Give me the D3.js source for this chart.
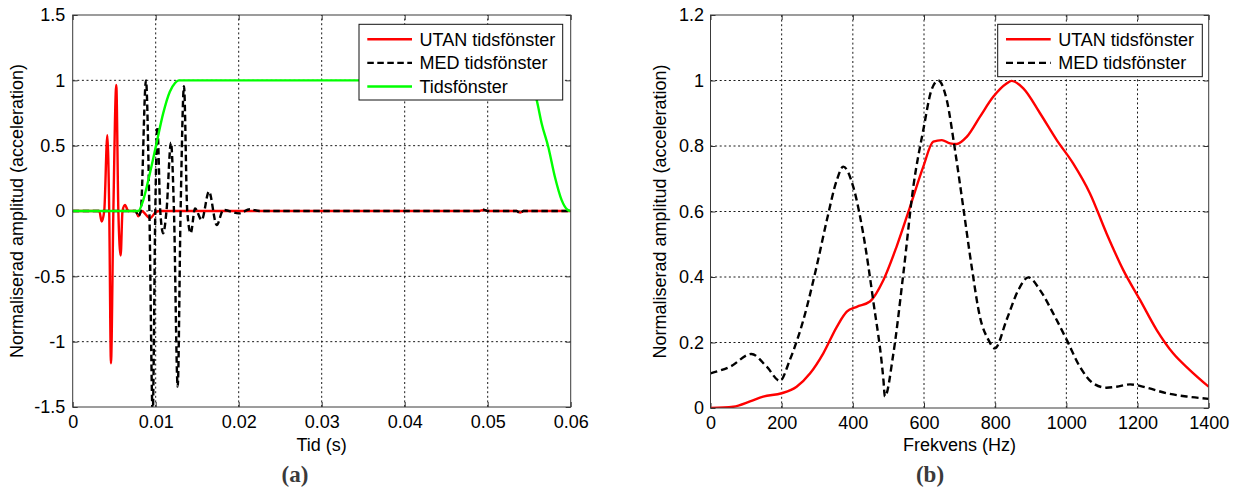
<!DOCTYPE html>
<html><head><meta charset="utf-8">
<script src="https://cdn.jsdelivr.net/npm/d3@7"></script>
<style>
html,body{margin:0;padding:0;background:#fff;}
svg{display:block;font-family:"Liberation Sans",Arial,sans-serif;}
</style></head>
<body><svg id="c" width="1246" height="490"></svg>
<script>
// ---------- Data: panel (a) time signals ----------
const utanT = [0,0.0032,0.00349,0.0038,0.00417,0.0044,0.00461,0.0049,0.00525,0.0055,0.00578,0.0060,0.0063,0.0067,0.0076,0.0079,0.0083,0.0093,0.0100,0.0105,0.049,0.0495,0.050,0.0535,0.0539,0.0543,0.06];
const utanV = [0,0,-0.08,0,0.58,0,-1.165,0,0.964,0,-0.34,0,0.046,0,0,-0.04,0,-0.055,-0.01,0,0,0.008,0,0,-0.012,0,0];
const medT = [0,0.0076,0.0079,0.0082,0.00883,0.00924,0.00964,0.00995,0.0102,0.01055,0.0109,0.0113,0.01184,0.0122,0.01265,0.0130,0.01341,0.0138,0.01422,0.01474,0.01554,0.01642,0.01735,0.01815,0.0200,0.02136,0.0225,0.049,0.0495,0.050,0.0535,0.0539,0.0543,0.06];
const medV = [0,0,-0.04,0,1.0,0,-1.56,0,0.645,0,-0.17,0,0.523,0,-1.344,0,0.956,0,-0.17,0.02,-0.069,0.148,-0.107,0.008,-0.018,0.013,0,0,0.01,0,0,-0.018,0,0];
const winT = [0,0.0079,0.0085,0.0093,0.0101,0.0109,0.0117,0.01233,0.0128,0.0548,0.0553,0.0559,0.0565,0.0573,0.0581,0.0589,0.0596,0.06];
const winV = [0,0,0.084,0.288,0.518,0.747,0.913,0.98,1,1,0.97,0.85,0.67,0.49,0.26,0.085,0.01,0];

// ---------- Data: panel (b) spectra ----------
const utanF = [0,64,111,148,200,242,280,317,355,383,411,448,486,523,561,598,626,650,673,692,720,757,795,832,846,879,926,973,1019,1066,1113,1160,1207,1254,1300,1347,1400];
const utanA = [0,0.004,0.02,0.035,0.045,0.065,0.106,0.167,0.248,0.294,0.309,0.325,0.391,0.493,0.615,0.737,0.813,0.818,0.808,0.806,0.828,0.889,0.951,0.991,0.999,0.976,0.9,0.818,0.747,0.656,0.533,0.421,0.33,0.238,0.167,0.116,0.065];
const medF = [0,55,115,158,195,223,261,298,327,355,373,401,429,457,486,490,514,542,570,598,621,640,664,687,710,734,757,781,799,832,865,893,926,963,1001,1038,1076,1113,1141,1179,1226,1282,1338,1400];
const medA = [0.106,0.126,0.165,0.126,0.083,0.147,0.269,0.431,0.574,0.696,0.737,0.676,0.533,0.33,0.085,0.035,0.167,0.411,0.676,0.849,0.971,1.0,0.94,0.788,0.615,0.431,0.279,0.208,0.182,0.269,0.36,0.399,0.36,0.289,0.208,0.126,0.075,0.062,0.065,0.072,0.062,0.045,0.035,0.028];

const xTicksA = [0,0.01,0.02,0.03,0.04,0.05,0.06];
const yTicksA = [-1.5,-1,-0.5,0,0.5,1,1.5];
const xTicksB = [0,200,400,600,800,1000,1200,1400];
const yTicksB = [0,0.2,0.4,0.6,0.8,1,1.2];

const svg = d3.select("#c");
const FS = 18;

function panel(o){
  const g = svg.append("g");
  const x = d3.scaleLinear().domain(o.xd).range([o.x0,o.x1]);
  const y = d3.scaleLinear().domain(o.yd).range([o.y0,o.y1]);
  const cid = "clip"+o.id;
  svg.append("defs").append("clipPath").attr("id",cid).append("rect")
    .attr("x",o.x0).attr("y",o.y1).attr("width",o.x1-o.x0).attr("height",o.y0-o.y1);
  // grid
  const grid = g.append("g").attr("stroke","#1a1a1a").attr("stroke-width",1).attr("stroke-dasharray","2,2.6");
  o.xt.slice(1,-1).forEach(v=>grid.append("line").attr("x1",x(v)).attr("x2",x(v)).attr("y1",o.y0).attr("y2",o.y1));
  o.yt.slice(1,-1).forEach(v=>grid.append("line").attr("y1",y(v)).attr("y2",y(v)).attr("x1",o.x0).attr("x2",o.x1));
  // axes via d3
  g.append("g").attr("transform",`translate(0,${o.y0})`)
    .call(d3.axisBottom(x).tickValues(o.xt).tickSize(-5).tickPadding(8.5).tickFormat(d=>String(d)))
    .call(a=>{a.select(".domain").remove(); a.selectAll("line").attr("stroke","#333");
      a.selectAll("text").attr("font-size",FS).attr("font-family","Liberation Sans, Arial, sans-serif").attr("fill","#000");});
  g.append("g").attr("transform",`translate(0,${o.y1})`)
    .call(d3.axisTop(x).tickValues(o.xt).tickSize(-5).tickFormat(""))
    .call(a=>{a.select(".domain").remove(); a.selectAll("line").attr("stroke","#333");});
  g.append("g").attr("transform",`translate(${o.x0},0)`)
    .call(d3.axisLeft(y).tickValues(o.yt).tickSize(-5).tickPadding(o.ypad).tickFormat(d=>String(d)))
    .call(a=>{a.select(".domain").remove(); a.selectAll("line").attr("stroke","#333");
      a.selectAll("text").attr("font-size",FS).attr("font-family","Liberation Sans, Arial, sans-serif").attr("fill","#000");});
  g.append("g").attr("transform",`translate(${o.x1},0)`)
    .call(d3.axisRight(y).tickValues(o.yt).tickSize(-5).tickFormat(""))
    .call(a=>{a.select(".domain").remove(); a.selectAll("line").attr("stroke","#333");});
  // series
  const lg = g.append("g").attr("clip-path",`url(#${cid})`);
  o.series.forEach(s=>{
    const pts = s.xs.map((v,i)=>[v,s.ys[i]]);
    lg.append("path").datum(pts)
      .attr("d",d3.line().x(d=>x(d[0])).y(d=>y(d[1])).curve(d3.curveMonotoneX))
      .attr("fill","none").attr("stroke",s.color).attr("stroke-width",2.4)
      .attr("stroke-dasharray",s.dash||null).attr("stroke-linejoin","round");
  });
  // frame
  g.append("rect").attr("x",o.x0).attr("y",o.y1).attr("width",o.x1-o.x0).attr("height",o.y0-o.y1)
    .attr("fill","none").attr("stroke","#3a3a3a").attr("stroke-width",1);
  // legend
  const L = o.legend;
  const leg = g.append("g");
  leg.append("rect").attr("x",L.x).attr("y",L.y).attr("width",L.w).attr("height",L.h)
    .attr("fill","#fff").attr("stroke","#111").attr("stroke-width",1);
  o.series.forEach((s,i)=>{
    const cy = L.y + L.r0 + i*23.6;
    leg.append("line").attr("x1",L.x+8.3).attr("x2",L.x+53).attr("y1",cy).attr("y2",cy)
      .attr("stroke",s.color).attr("stroke-width",2.4).attr("stroke-dasharray",s.dash||null);
    leg.append("text").attr("x",L.x+60.5).attr("y",cy).attr("dy","0.35em")
      .attr("font-size",FS).attr("fill","#000").text(s.name);
  });
  // labels
  g.append("text").attr("x",(o.x0+o.x1)/2).attr("y",451).attr("text-anchor","middle")
    .attr("font-size",FS).attr("fill","#000").text(o.xlabel);
  g.append("text").attr("transform",`translate(${o.ylx},${(o.y0+o.y1)/2}) rotate(-90)`)
    .attr("text-anchor","middle").attr("dy","0.35em").attr("font-size",FS).attr("fill","#000").text(o.ylabel);
  g.append("text").attr("x",o.capx).attr("y",482).attr("text-anchor","middle")
    .attr("font-family","Liberation Serif, Times New Roman, serif").attr("font-weight","bold")
    .attr("font-size",23).attr("fill","#3a3a3a").text(o.cap);
}

panel({id:"a", xd:[0,0.06], yd:[-1.5,1.5], x0:72.7, x1:570.7, y0:407, y1:15, ypad:7.5,
  xt:xTicksA, yt:yTicksA, xlabel:"Tid (s)", ylabel:"Normaliserad amplitud (acceleration)", ylx:17, cap:"(a)", capx:295,
  series:[
    {name:"UTAN tidsfönster", xs:utanT, ys:utanV, color:"#ff0000"},
    {name:"MED tidsfönster", xs:medT, ys:medV, color:"#000", dash:"6.5,3.5"},
    {name:"Tidsfönster", xs:winT, ys:winV, color:"#00ff00"}
  ],
  legend:{x:359, y:24.3, w:203.7, h:75.7, r0:15}
});
panel({id:"b", xd:[0,1400], yd:[0,1.2], x0:710.5, x1:1208.7, y0:408, y1:15, ypad:6.5,
  xt:xTicksB, yt:yTicksB, xlabel:"Frekvens (Hz)", ylabel:"Normaliserad amplitud (acceleration)", ylx:660, cap:"(b)", capx:930,
  series:[
    {name:"UTAN tidsfönster", xs:utanF, ys:utanA, color:"#ff0000"},
    {name:"MED tidsfönster", xs:medF, ys:medA, color:"#000", dash:"7,4"}
  ],
  legend:{x:997.7, y:24.3, w:204.6, h:52.4, r0:15}
});
</script></body></html>
